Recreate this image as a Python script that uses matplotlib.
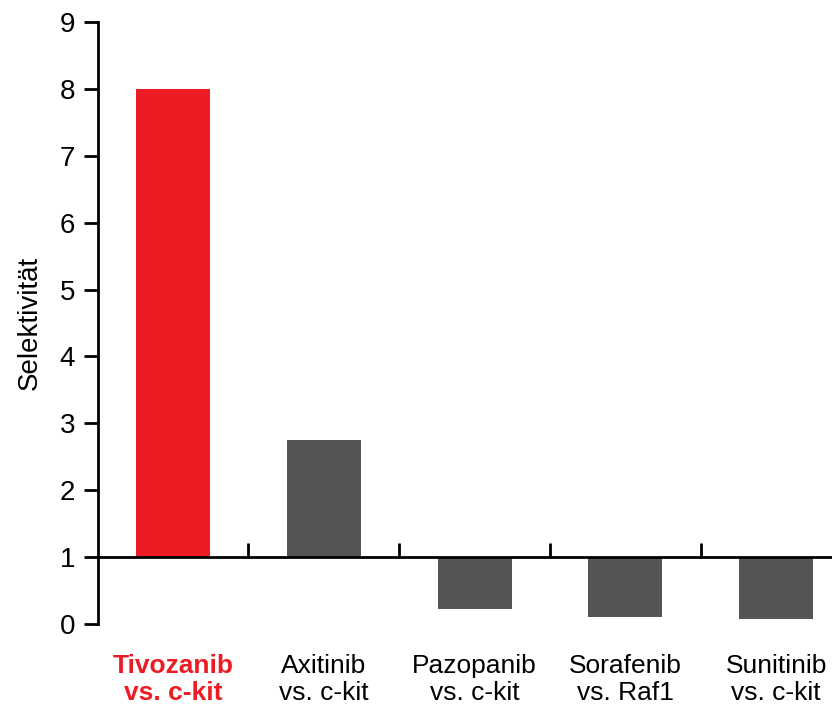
import matplotlib.pyplot as plt
from matplotlib.ticker import FixedLocator

plt.rcParams['font.family'] = ['Liberation Sans', 'DejaVu Sans']

labels = ['Tivozanib\nvs. c-kit', 'Axitinib\nvs. c-kit', 'Pazopanib\nvs. c-kit',
          'Sorafenib\nvs. Raf1', 'Sunitinib\nvs. c-kit']
values = [8.0, 2.75, 0.22, 0.10, 0.08]
colors = ['#ED1C24', '#555555', '#555555', '#555555', '#555555']
baseline = 1

fig = plt.figure(figsize=(8.32, 7.08), dpi=100)
ax = fig.add_axes([0.1172, 0.1186, 0.8828, 0.8503])

x = range(len(values))
ax.bar(x, [v - baseline for v in values], bottom=baseline, width=0.49, color=colors)

ax.set_xlim(-0.5, 4.37)
ax.set_ylim(0, 9)
ax.set_yticks(range(10))
ax.tick_params(axis='y', direction='out', length=10, width=2, labelsize=20, pad=6)

for s in ['top', 'right']:
    ax.spines[s].set_visible(False)
ax.spines['left'].set_linewidth(2)
ax.spines['bottom'].set_position(('data', baseline))
ax.spines['bottom'].set_linewidth(2)

ax.set_xticks(list(x))
ax.set_xticklabels(labels, fontsize=19, linespacing=1.15)
ax.xaxis.set_minor_locator(FixedLocator([i + 0.5 for i in range(4)]))
ax.tick_params(axis='x', which='major', length=0, pad=70)
ax.tick_params(axis='x', which='minor', direction='in', length=10, width=2)
first = ax.get_xticklabels()[0]
first.set_color('#ED1C24')
first.set_fontweight('bold')

ax.set_ylabel('Selektivität', fontsize=20, labelpad=12)

fig.savefig('out.png', dpi=100)
